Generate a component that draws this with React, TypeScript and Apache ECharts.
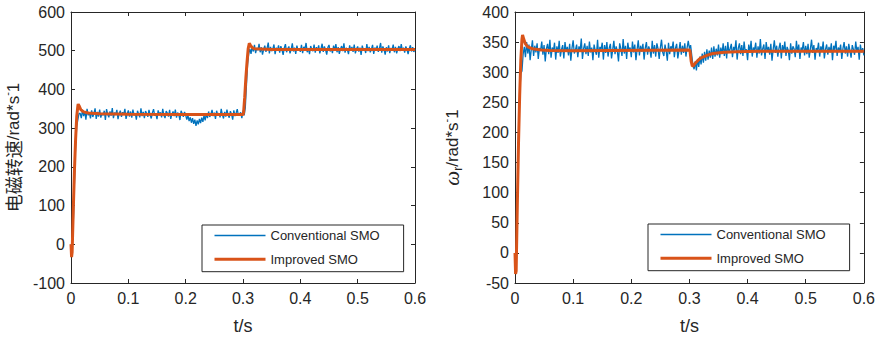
import React, { useEffect, useRef } from "react";
import * as echarts from "echarts";

// ---------- data ----------
const SERIES_NAMES = ["Conventional SMO", "Improved SMO"];
const X_TICKS = [0, 0.1, 0.2, 0.3, 0.4, 0.5, 0.6];
const LEFT_Y_TICKS = [-100, 0, 100, 200, 300, 400, 500, 600];
const RIGHT_Y_TICKS = [-50, 0, 50, 100, 150, 200, 250, 300, 350, 400];
const SAMPLE_DT = 0.002;

// Left chart – conventional SMO (blue)
const leftBlueRiseT = [0, 0.002, 0.004, 0.006, 0.008, 0.01, 0.012, 0.014];
const leftBlueRiseV = [0, -6, 55, 160, 255, 305, 322, 338];
const leftBlueSeg1Start = 0.016;
const leftBlueSeg1 = [
  338, 326, 347, 331, 344, 322, 350, 333, 340, 325,
  346, 329, 337, 351, 324, 342, 330, 348, 327, 339,
  333, 345, 321, 349, 336, 328, 343, 332, 352, 326,
  340, 334, 347, 323, 338, 345, 329, 341, 335, 350,
  324, 337, 346, 330, 343, 327, 348, 333, 339, 322,
  345, 336, 328, 351, 331, 342, 326, 344, 338, 329,
  347, 334, 325, 340, 349, 332, 337, 323, 346, 335,
  341, 328, 350, 333, 326, 344, 339, 330, 347, 324,
  336, 343, 331, 348, 327, 340, 335, 321, 345, 338,
  329, 342, 334, 322, 333, 318, 328, 314, 326, 311,
  322, 306, 320, 310, 324, 313, 327, 316, 333, 320,
  338, 326, 343, 329, 336, 347, 331, 340, 324, 345,
  333, 339, 328, 350, 335, 325, 342, 330, 348, 334,
  327, 344, 336, 322, 346, 331, 339, 349, 332, 337,
  341, 326, 345,
];
const leftBlueStepT = [0.302, 0.304, 0.306, 0.308, 0.31];
const leftBlueStepV = [333, 352, 410, 465, 492];
const leftBlueSeg2Start = 0.312;
const leftBlueSeg2 = [
  505, 492, 511, 498, 515, 494, 507, 501, 518, 496,
  509, 490, 503, 513, 497, 506, 521, 493, 510, 499,
  504, 516, 491, 508, 500, 514, 495, 512, 502, 489,
  507, 517, 496, 505, 511, 493, 503, 519, 498, 508,
  492, 513, 501, 506, 497, 515, 494, 510, 504, 520,
  496, 507, 491, 512, 503, 499, 516, 495, 509, 500,
  514, 493, 505, 518, 497, 511, 502, 490, 508, 515,
  498, 506, 494, 513, 501, 517, 496, 509, 492, 504,
  512, 499, 519, 495, 507, 503, 491, 514, 500, 510,
  497, 516, 493, 505, 511, 498, 508, 489, 513, 502,
  506, 494, 517, 499, 510, 496, 504, 515, 492, 508,
  501, 513, 497, 506, 520, 495, 511, 503, 490, 509,
  498, 514, 494, 507, 502, 516, 496, 510, 493, 505,
  512, 499, 517, 500, 508, 495, 511, 503, 491, 506,
  514, 498, 509, 497, 504,
];

// Left chart – improved SMO (orange)
const leftOrangeT = [
  0, 0.001, 0.002, 0.004, 0.006, 0.008, 0.01, 0.012, 0.0125, 0.014, 0.017,
  0.022, 0.03, 0.05, 0.1, 0.2, 0.3, 0.301, 0.303, 0.305, 0.307, 0.309,
  0.311, 0.313, 0.316, 0.32, 0.35, 0.6,
];
const leftOrangeV = [
  0, -33, -20, 90, 190, 270, 330, 358, 362, 358, 348,
  342, 339, 337, 336, 335, 335, 340, 380, 430, 470, 505,
  519, 514, 508, 505, 503, 503,
];

// Right chart – conventional SMO (blue)
const rightBlueRiseT = [0, 0.002, 0.004, 0.006, 0.008, 0.01, 0.012, 0.014];
const rightBlueRiseV = [0, -10, 80, 190, 260, 298, 302, 330];
const rightBlueSeg1Start = 0.016;
const rightBlueSeg1 = [
  342, 325, 350, 331, 346, 320, 338, 353, 327, 344,
  333, 348, 322, 340, 336, 351, 329, 345, 318, 339,
  347, 330, 354, 324, 341, 335, 349, 321, 343, 332,
  352, 326, 338, 345, 323, 350, 334, 342, 328, 347,
  319, 340, 353, 331, 337, 346, 325, 343, 335, 356,
  322, 339, 348, 330, 344, 327, 351, 333, 341, 320,
  346, 336, 329, 354, 324, 342, 338, 349, 321, 345,
  332, 350, 326, 340, 347, 323, 337, 352, 330, 343,
  335, 318, 348, 339, 327, 355, 331, 344, 322, 349,
  336, 341, 325, 351, 333, 346, 320, 338, 353, 328,
  344, 334, 347, 321, 340, 350, 329, 343, 337, 324,
  352, 331, 345, 326, 348, 339, 322, 341, 354, 333,
  327, 346, 335, 319, 349, 330, 343, 338, 351, 325,
  340, 347, 323, 336, 350, 329, 344, 332, 348, 326,
  341, 352, 339,
];
const rightBlueSeg2Start = 0.302;
const rightBlueSeg2 = [
  345, 328, 312, 305, 318, 303, 322, 309, 326, 313,
  331, 316, 334, 319, 338, 321, 336, 324, 341, 322,
  343, 326, 339, 328, 346, 324, 341, 330, 348, 327,
  344, 323, 350, 332, 339, 347, 325, 342, 336, 353,
  321, 340, 348, 330, 345, 327, 351, 334, 338, 320,
  346, 333, 352, 326, 341, 337, 349, 324, 343, 331,
  355, 328, 339, 346, 322, 350, 335, 342, 329, 347,
  319, 338, 353, 332, 344, 326, 340, 349, 323, 345,
  334, 351, 327, 342, 336, 320, 348, 331, 343, 339,
  325, 352, 333, 346, 322, 341, 337, 350, 328, 344,
  330, 347, 324, 339, 354, 332, 345, 321, 340, 336,
  349, 326, 343, 335, 351, 323, 338, 346, 329, 342,
  333, 348, 320, 344, 337, 352, 327, 341, 335, 346,
  322, 339, 350, 331, 343, 326, 347, 336, 324, 345,
  338, 329, 351, 334, 342, 321, 346, 333, 340, 328,
];

// Right chart – improved SMO (orange)
const rightOrangeT = [
  0, 0.001, 0.002, 0.004, 0.006, 0.008, 0.01, 0.012, 0.013, 0.015, 0.018,
  0.022, 0.03, 0.045, 0.06, 0.1, 0.3, 0.301, 0.303, 0.305, 0.307, 0.31,
  0.315, 0.32, 0.33, 0.34, 0.36, 0.38, 0.42, 0.6,
];
const rightOrangeV = [
  0, -35, -30, 80, 180, 260, 320, 355, 362, 355, 347,
  342, 339, 337, 336, 335.5, 337, 335, 318, 310, 311, 315,
  320, 324, 328, 331, 333, 334, 335, 335,
];

// ---------- helpers ----------
const pairs = (t: number[], v: number[]) => t.map((x, i) => [x, v[i]]);
const sampled = (start: number, v: number[]) =>
  v.map((y, i) => [+(start + i * SAMPLE_DT).toFixed(4), y]);

const leftBlue = [
  ...pairs(leftBlueRiseT, leftBlueRiseV),
  ...sampled(leftBlueSeg1Start, leftBlueSeg1),
  ...pairs(leftBlueStepT, leftBlueStepV),
  ...sampled(leftBlueSeg2Start, leftBlueSeg2),
];
const leftOrange = pairs(leftOrangeT, leftOrangeV);
const rightBlue = [
  ...pairs(rightBlueRiseT, rightBlueRiseV),
  ...sampled(rightBlueSeg1Start, rightBlueSeg1),
  ...sampled(rightBlueSeg2Start, rightBlueSeg2),
];
const rightOrange = pairs(rightOrangeT, rightOrangeV);

const BLUE = "#0072BD";
const ORANGE = "#D95319";
const INK = "#262626";
const FONT = "'Liberation Sans', Arial, sans-serif";

export default function App() {
  const ref = useRef<HTMLDivElement>(null);

  useEffect(() => {
    if (!ref.current) return;
    const chart = echarts.init(ref.current, undefined, { renderer: "svg" });

    const grids = [
      { left: 67, top: 12, width: 348, height: 276 },
      { left: 515, top: 12, width: 349, height: 276 },
    ];

    const tickCommon = { show: true, inside: true, length: 4, lineStyle: { color: INK } };
    const lineCommon = { show: true, onZero: false, lineStyle: { color: INK, width: 1 } };
    const labelCommon = { color: INK, fontSize: 16, fontFamily: FONT };

    const xAxis: any[] = [];
    const yAxis: any[] = [];
    const yTicks = [LEFT_Y_TICKS, RIGHT_Y_TICKS];
    const yNames = [
      "{cn|电磁转速}{en|/rad*s}{sup|-}{en|1}",
      "{w|ω}{sub|r}{en|/rad*s}{sup|-}{en|1}",
    ];
    const nameGaps = [46, 51];

    for (let g = 0; g < 2; g++) {
      const xmin = X_TICKS[0];
      const xmax = X_TICKS[X_TICKS.length - 1];
      const xint = X_TICKS[1] - X_TICKS[0];
      xAxis.push({
        type: "value", gridIndex: g, position: "bottom", min: xmin, max: xmax, interval: xint,
        axisLine: lineCommon, axisTick: tickCommon, splitLine: { show: false },
        axisLabel: { ...labelCommon, margin: 7 },
        name: "t/s", nameLocation: "middle", nameGap: 34,
        nameTextStyle: { color: INK, fontSize: 18, fontFamily: FONT },
      });
      xAxis.push({
        type: "value", gridIndex: g, position: "top", min: xmin, max: xmax, interval: xint,
        axisLine: lineCommon, axisTick: tickCommon, splitLine: { show: false },
        axisLabel: { show: false },
      });
      const yt = yTicks[g];
      const ymin = yt[0];
      const ymax = yt[yt.length - 1];
      const yint = yt[1] - yt[0];
      yAxis.push({
        type: "value", gridIndex: g, position: "left", min: ymin, max: ymax, interval: yint,
        axisLine: lineCommon, axisTick: tickCommon, splitLine: { show: false },
        axisLabel: { ...labelCommon, margin: 6 },
        name: yNames[g], nameLocation: "middle", nameGap: nameGaps[g], nameRotate: 90,
        nameTextStyle: {
          color: INK, fontFamily: FONT, fontSize: 17,
          rich: {
            cn: { fontFamily: "'Noto Sans CJK SC', sans-serif", fontSize: 18, color: INK },
            en: { fontFamily: FONT, fontSize: 17, color: INK, lineHeight: 24 },
            sup: { fontFamily: FONT, fontSize: 11, color: INK, verticalAlign: "top", lineHeight: 24 },
            w: { fontFamily: "'Liberation Serif', serif", fontStyle: "italic", fontSize: 21, color: INK, lineHeight: 24 },
            sub: { fontFamily: FONT, fontSize: 12, color: INK, verticalAlign: "bottom", lineHeight: 24 },
          },
        },
      });
      yAxis.push({
        type: "value", gridIndex: g, position: "right", min: ymin, max: ymax, interval: yint,
        axisLine: lineCommon, axisTick: tickCommon, splitLine: { show: false },
        axisLabel: { show: false },
      });
    }

    const blueStyle = { color: BLUE, width: 1.3 };
    const orangeStyle = { color: ORANGE, width: 3 };
    const mk = (name: string, data: any[], g: number, ls: any) => ({
      name, type: "line", data, xAxisIndex: g * 2, yAxisIndex: g * 2,
      showSymbol: false, symbol: "none", lineStyle: ls, itemStyle: { color: ls.color },
      emphasis: { disabled: true },
    });

    const legendCommon = {
      data: SERIES_NAMES, orient: "vertical", itemWidth: 51, itemHeight: 14, itemGap: 10.7,
      padding: [4, 24, 6, 11], borderColor: INK, borderWidth: 1, backgroundColor: "#fff",
      textStyle: { fontSize: 13, color: INK, fontFamily: FONT },
      lineStyle: { width: "inherit" },
      itemStyle: { opacity: 0, color: "transparent", borderWidth: 0 },
      selectedMode: false,
    };

    chart.setOption({
      animation: false,
      backgroundColor: "#fff",
      grid: grids,
      xAxis,
      yAxis,
      legend: [
        { ...legendCommon, left: 202, top: 225 },
        { ...legendCommon, left: 648, top: 224 },
      ],
      series: [
        mk(SERIES_NAMES[0], leftBlue, 0, blueStyle),
        mk(SERIES_NAMES[1], leftOrange, 0, orangeStyle),
        mk(SERIES_NAMES[0], rightBlue, 1, blueStyle),
        mk(SERIES_NAMES[1], rightOrange, 1, orangeStyle),
      ],
    });

    return () => chart.dispose();
  }, []);

  return (
    <div
      ref={ref}
      style={{ position: "fixed", left: 0, top: 0, width: 878, height: 340 }}
    />
  );
}
